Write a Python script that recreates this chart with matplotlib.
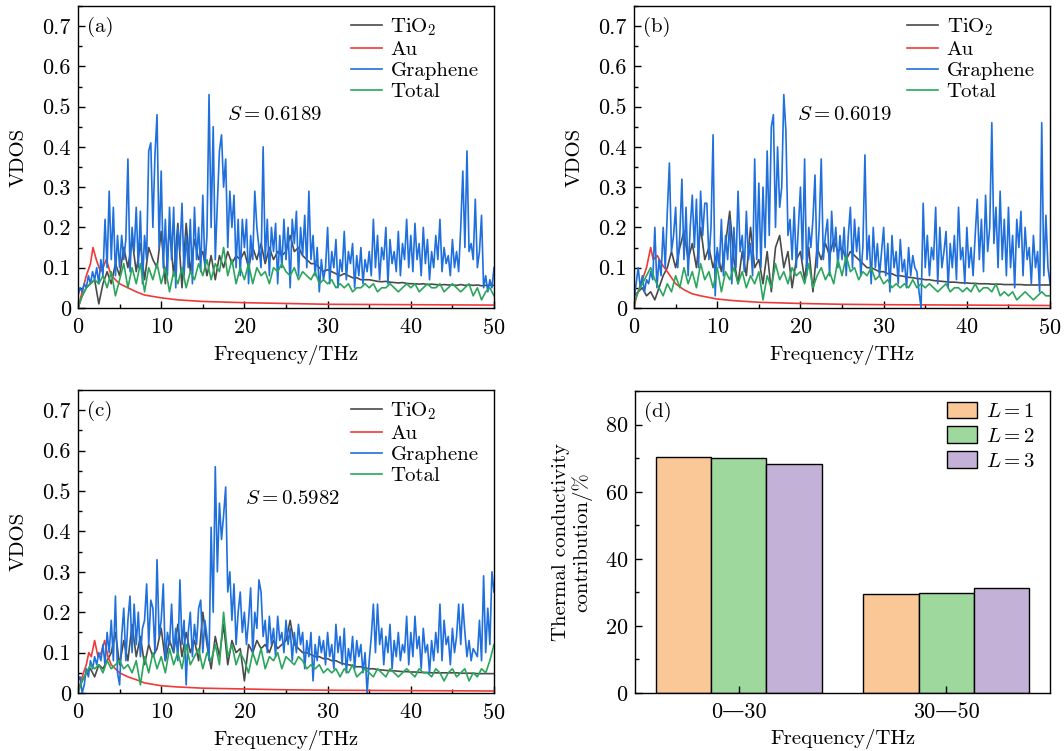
import matplotlib
matplotlib.use("Agg")
import matplotlib.pyplot as plt
from matplotlib.ticker import MultipleLocator, FormatStrFormatter
import numpy as np

plt.rcParams['font.family'] = ['cmr10', 'DejaVu Serif']
plt.rcParams['mathtext.fontset'] = 'cm'
plt.rcParams['axes.formatter.use_mathtext'] = True
plt.rcParams['font.size'] = 15
plt.rcParams['xtick.direction'] = 'in'
plt.rcParams['ytick.direction'] = 'in'
plt.rcParams['xtick.labelsize'] = 16
plt.rcParams['ytick.labelsize'] = 16

# ---------------- data ----------------
# (a)
gra_a = [0.03, 0.05, 0.04, 0.06, 0.05, 0.08, 0.06, 0.09, 0.07, 0.10, 0.06, 0.12, 0.08, 0.22, 0.10, 0.29, 0.12, 0.25, 0.08, 0.18,
         0.10, 0.18, 0.12, 0.17, 0.37, 0.09, 0.20, 0.14, 0.25, 0.10, 0.24, 0.06, 0.18, 0.12, 0.39, 0.41, 0.20, 0.38, 0.48, 0.15,
         0.34, 0.10, 0.22, 0.08, 0.25, 0.12, 0.25, 0.05, 0.20, 0.14, 0.26, 0.08, 0.18, 0.10, 0.22, 0.06, 0.25, 0.12, 0.20, 0.09,
         0.28, 0.10, 0.18, 0.53, 0.20, 0.45, 0.12, 0.26, 0.39, 0.43, 0.30, 0.37, 0.15, 0.29, 0.20, 0.28, 0.10, 0.22, 0.08, 0.22,
         0.15, 0.22, 0.06, 0.18, 0.12, 0.29, 0.20, 0.15, 0.10, 0.40, 0.12, 0.22, 0.08, 0.20, 0.14, 0.21, 0.06, 0.18, 0.10, 0.22,
         0.12, 0.20, 0.05, 0.22, 0.16, 0.24, 0.08, 0.20, 0.13, 0.23, 0.10, 0.29, 0.12, 0.18, 0.08, 0.15, 0.04, 0.12, 0.07, 0.10,
         0.20, 0.06, 0.14, 0.10, 0.17, 0.05, 0.12, 0.09, 0.19, 0.07, 0.14, 0.11, 0.16, 0.05, 0.13, 0.08, 0.15, 0.06, 0.12, 0.09,
         0.14, 0.08, 0.22, 0.10, 0.18, 0.07, 0.15, 0.12, 0.20, 0.06, 0.17, 0.11, 0.14, 0.09, 0.19, 0.08, 0.16, 0.12, 0.22, 0.10,
         0.18, 0.09, 0.21, 0.12, 0.16, 0.08, 0.20, 0.11, 0.17, 0.07, 0.14, 0.10, 0.18, 0.12, 0.22, 0.09, 0.15, 0.11, 0.13, 0.08,
         0.17, 0.10, 0.14, 0.09, 0.20, 0.34, 0.15, 0.39, 0.14, 0.16, 0.12, 0.27, 0.10, 0.14, 0.23, 0.05, 0.08, 0.04, 0.07, 0.05, 0.10]
tio2_a = [0.0, 0.03, 0.05, 0.06, 0.07, 0.01, 0.06, 0.09, 0.06, 0.11,
          0.08, 0.15, 0.10, 0.17, 0.09, 0.16, 0.07, 0.15, 0.12, 0.10,
          0.19, 0.06, 0.20, 0.08, 0.21, 0.05, 0.21, 0.09, 0.17, 0.12,
          0.14, 0.08, 0.13, 0.07, 0.13, 0.10, 0.14, 0.11, 0.13, 0.12,
          0.14, 0.10, 0.15, 0.12, 0.16, 0.11, 0.15, 0.12, 0.14, 0.13,
          0.14, 0.18, 0.14, 0.15, 0.13, 0.12, 0.11, 0.11, 0.10, 0.09,
          0.095, 0.09, 0.085, 0.08, 0.085, 0.08, 0.075, 0.075, 0.07, 0.07,
          0.07, 0.068, 0.066, 0.065, 0.066, 0.064, 0.063, 0.062, 0.063, 0.061,
          0.06, 0.06, 0.059, 0.06, 0.058, 0.059, 0.058, 0.057, 0.058, 0.057,
          0.057, 0.056, 0.058, 0.056, 0.057, 0.056, 0.057, 0.055, 0.056, 0.056, 0.056]
tot_a = [0.0, 0.03, 0.05, 0.06, 0.07, 0.06, 0.08, 0.05, 0.09, 0.03,
         0.07, 0.11, 0.05, 0.10, 0.06, 0.11, 0.04, 0.10, 0.07, 0.11,
         0.06, 0.10, 0.04, 0.09, 0.06, 0.10, 0.05, 0.09, 0.07, 0.11,
         0.08, 0.12, 0.07, 0.11, 0.09, 0.15, 0.08, 0.12, 0.06, 0.10,
         0.07, 0.11, 0.06, 0.10, 0.08, 0.09, 0.06, 0.10, 0.09, 0.11,
         0.09, 0.08, 0.10, 0.07, 0.09, 0.08, 0.07, 0.09, 0.06, 0.07,
         0.06, 0.07, 0.05, 0.06, 0.05, 0.06, 0.04, 0.05, 0.05, 0.06,
         0.05, 0.06, 0.04, 0.05, 0.05, 0.06, 0.05, 0.04, 0.05, 0.06,
         0.05, 0.06, 0.04, 0.05, 0.06, 0.05, 0.05, 0.06, 0.04, 0.05,
         0.06, 0.05, 0.04, 0.05, 0.06, 0.03, 0.05, 0.02, 0.04, 0.05, 0.03]
au_a_x = [0, 0.5, 1.0, 1.5, 1.8, 2.2, 2.7, 3.0, 3.4, 4.0, 5.0, 6.0, 7.0, 8.0, 10, 12, 15, 20, 25, 30, 40, 50]
au_a = [0.0, 0.04, 0.08, 0.11, 0.15, 0.12, 0.09, 0.10, 0.12, 0.08, 0.06, 0.05, 0.04, 0.032, 0.025, 0.02, 0.016, 0.013, 0.011, 0.009, 0.008, 0.007]

# (b)
gra_b = [0.02, 0.06, 0.10, 0.05, 0.08, 0.04, 0.07, 0.06, 0.09, 0.07, 0.20, 0.05, 0.12, 0.08, 0.20, 0.10, 0.24, 0.36, 0.14, 0.18,
         0.25, 0.10, 0.18, 0.32, 0.12, 0.25, 0.08, 0.20, 0.28, 0.15, 0.27, 0.10, 0.29, 0.18, 0.26, 0.26, 0.12, 0.20, 0.43, 0.03,
         0.15, 0.10, 0.22, 0.08, 0.18, 0.12, 0.22, 0.06, 0.20, 0.10, 0.29, 0.14, 0.18, 0.09, 0.24, 0.12, 0.16, 0.08, 0.37, 0.12,
         0.31, 0.10, 0.30, 0.15, 0.39, 0.18, 0.45, 0.48, 0.20, 0.40, 0.25, 0.30, 0.53, 0.44, 0.18, 0.22, 0.12, 0.25, 0.10, 0.20,
         0.30, 0.12, 0.37, 0.08, 0.20, 0.15, 0.22, 0.33, 0.10, 0.20, 0.37, 0.12, 0.18, 0.22, 0.08, 0.24, 0.14, 0.20, 0.10, 0.18,
         0.12, 0.20, 0.08, 0.18, 0.25, 0.10, 0.22, 0.14, 0.20, 0.08, 0.15, 0.38, 0.12, 0.18, 0.06, 0.20, 0.10, 0.16, 0.08, 0.14,
         0.20, 0.08, 0.16, 0.04, 0.18, 0.10, 0.14, 0.06, 0.17, 0.09, 0.12, 0.05, 0.15, 0.08, 0.13, 0.10, 0.09, 0.04, 0.0, 0.26,
         0.10, 0.18, 0.08, 0.15, 0.12, 0.25, 0.06, 0.20, 0.10, 0.14, 0.19, 0.05, 0.16, 0.10, 0.18, 0.07, 0.25, 0.12, 0.15, 0.06,
         0.20, 0.10, 0.15, 0.08, 0.18, 0.27, 0.12, 0.22, 0.09, 0.28, 0.14, 0.20, 0.46, 0.16, 0.25, 0.10, 0.29, 0.12, 0.22, 0.08,
         0.25, 0.10, 0.18, 0.05, 0.22, 0.15, 0.24, 0.08, 0.20, 0.12, 0.15, 0.06, 0.18, 0.10, 0.14, 0.04, 0.46, 0.08, 0.23, 0.10, 0.06]
tio2_b = [0.03, 0.04, 0.05, 0.03, 0.04, 0.02, 0.05, 0.08, 0.10, 0.14,
          0.10, 0.15, 0.19, 0.12, 0.16, 0.10, 0.20, 0.12, 0.15, 0.10,
          0.14, 0.09, 0.16, 0.24, 0.12, 0.06, 0.14, 0.08, 0.20, 0.10,
          0.12, 0.06, 0.14, 0.04, 0.15, 0.18, 0.10, 0.14, 0.05, 0.12,
          0.14, 0.07, 0.15, 0.04, 0.15, 0.12, 0.16, 0.13, 0.17, 0.14,
          0.15, 0.12, 0.14, 0.13, 0.12, 0.11, 0.10, 0.10, 0.095, 0.09,
          0.09, 0.085, 0.085, 0.08, 0.08, 0.078, 0.076, 0.075, 0.073, 0.072,
          0.07, 0.07, 0.068, 0.067, 0.066, 0.065, 0.064, 0.064, 0.063, 0.062,
          0.062, 0.061, 0.061, 0.06, 0.06, 0.06, 0.059, 0.059, 0.059, 0.058,
          0.058, 0.058, 0.058, 0.058, 0.057, 0.057, 0.057, 0.057, 0.057, 0.057, 0.057]
tot_b = [0.01, 0.04, 0.06, 0.08, 0.10, 0.07, 0.05, 0.03, 0.06, 0.04,
         0.08, 0.05, 0.10, 0.06, 0.09, 0.05, 0.11, 0.07, 0.09, 0.05,
         0.10, 0.04, 0.09, 0.07, 0.10, 0.06, 0.09, 0.05, 0.08, 0.06,
         0.09, 0.02, 0.08, 0.05, 0.11, 0.07, 0.09, 0.06, 0.10, 0.08,
         0.09, 0.06, 0.11, 0.05, 0.08, 0.10, 0.07, 0.09, 0.06, 0.12,
         0.08, 0.13, 0.09, 0.10, 0.07, 0.09, 0.08, 0.10, 0.07, 0.08,
         0.06, 0.07, 0.05, 0.06, 0.05, 0.06, 0.05, 0.07, 0.05, 0.06,
         0.05, 0.06, 0.05, 0.04, 0.05, 0.06, 0.04, 0.05, 0.05, 0.04,
         0.05, 0.04, 0.06, 0.04, 0.05, 0.05, 0.04, 0.06, 0.03, 0.04,
         0.03, 0.04, 0.02, 0.03, 0.04, 0.03, 0.02, 0.03, 0.04, 0.03, 0.03]
au_b_x = [0, 0.3, 1.0, 1.5, 2.0, 2.3, 2.8, 3.3, 4.0, 5.0, 6.0, 7.0, 8.0, 10, 12, 15, 20, 25, 30, 40, 50]
au_b = [0.0, 0.03, 0.07, 0.10, 0.15, 0.12, 0.13, 0.11, 0.09, 0.06, 0.045, 0.035, 0.03, 0.022, 0.018, 0.014, 0.011, 0.009, 0.008, 0.007, 0.006]

# (c)
gra_c = [0.03, 0.04, 0.0, 0.02, 0.06, 0.04, 0.08, 0.06, 0.09, 0.07, 0.10, 0.08, 0.12, 0.07, 0.15, 0.10, 0.18, 0.08, 0.24, 0.05,
         0.02, 0.14, 0.21, 0.08, 0.18, 0.24, 0.10, 0.22, 0.12, 0.20, 0.09, 0.16, 0.18, 0.27, 0.12, 0.23, 0.21, 0.10, 0.33, 0.14,
         0.18, 0.27, 0.08, 0.15, 0.12, 0.22, 0.10, 0.16, 0.08, 0.28, 0.12, 0.18, 0.02, 0.15, 0.20, 0.09, 0.17, 0.12, 0.21, 0.23,
         0.10, 0.18, 0.14, 0.08, 0.41, 0.20, 0.56, 0.30, 0.47, 0.38, 0.44, 0.51, 0.25, 0.30, 0.18, 0.27, 0.12, 0.20, 0.25, 0.15,
         0.20, 0.12, 0.18, 0.26, 0.10, 0.20, 0.16, 0.28, 0.25, 0.14, 0.18, 0.10, 0.19, 0.12, 0.16, 0.09, 0.19, 0.13, 0.15, 0.10,
         0.18, 0.12, 0.16, 0.08, 0.15, 0.10, 0.17, 0.12, 0.15, 0.06, 0.13, 0.09, 0.15, 0.03, 0.12, 0.08, 0.14, 0.10, 0.13, 0.07,
         0.15, 0.09, 0.12, 0.06, 0.17, 0.10, 0.14, 0.07, 0.16, 0.05, 0.11, 0.08, 0.14, 0.06, 0.13, 0.09, 0.12, 0.05, 0.10, 0.0,
         0.08, 0.14, 0.22, 0.10, 0.22, 0.12, 0.16, 0.07, 0.14, 0.10, 0.17, 0.06, 0.13, 0.09, 0.15, 0.08, 0.12, 0.10, 0.19, 0.07,
         0.15, 0.09, 0.19, 0.11, 0.14, 0.06, 0.16, 0.10, 0.12, 0.05, 0.13, 0.08, 0.15, 0.10, 0.22, 0.08, 0.18, 0.12, 0.14, 0.07,
         0.16, 0.10, 0.14, 0.22, 0.12, 0.22, 0.15, 0.09, 0.13, 0.08, 0.11, 0.10, 0.09, 0.18, 0.08, 0.29, 0.10, 0.21, 0.12, 0.30, 0.25]
tio2_c = [0.01, 0.03, 0.05, 0.06, 0.04, 0.07, 0.06, 0.08, 0.10, 0.15,
          0.07, 0.13, 0.08, 0.17, 0.09, 0.14, 0.07, 0.12, 0.09, 0.11,
          0.16, 0.08, 0.13, 0.10, 0.17, 0.09, 0.15, 0.10, 0.13, 0.08,
          0.20, 0.12, 0.06, 0.14, 0.09, 0.17, 0.07, 0.13, 0.10, 0.11,
          0.03, 0.12, 0.10, 0.13, 0.11, 0.12, 0.10, 0.13, 0.11, 0.12,
          0.13, 0.18, 0.12, 0.11, 0.10, 0.10, 0.095, 0.09, 0.09, 0.085,
          0.085, 0.08, 0.08, 0.075, 0.072, 0.07, 0.068, 0.065, 0.065, 0.062,
          0.06, 0.06, 0.058, 0.057, 0.056, 0.055, 0.055, 0.054, 0.053, 0.053,
          0.052, 0.052, 0.051, 0.051, 0.051, 0.05, 0.05, 0.05, 0.05, 0.05,
          0.05, 0.05, 0.049, 0.049, 0.049, 0.049, 0.048, 0.048, 0.048, 0.048, 0.048]
tot_c = [0.0, 0.03, 0.05, 0.07, 0.06, 0.07, 0.05, 0.08, 0.06, 0.07,
         0.08, 0.06, 0.07, 0.05, 0.08, 0.02, 0.09, 0.05, 0.10, 0.06,
         0.09, 0.05, 0.11, 0.07, 0.10, 0.06, 0.12, 0.07, 0.09, 0.11,
         0.06, 0.10, 0.08, 0.12, 0.07, 0.20, 0.09, 0.12, 0.07, 0.10,
         0.08, 0.05, 0.10, 0.07, 0.11, 0.06, 0.09, 0.08, 0.10, 0.06,
         0.09, 0.08, 0.07, 0.09, 0.08, 0.06, 0.07, 0.06, 0.07, 0.05,
         0.06, 0.05, 0.06, 0.04, 0.06, 0.05, 0.07, 0.04, 0.05, 0.06,
         0.05, 0.04, 0.06, 0.05, 0.04, 0.06, 0.05, 0.04, 0.05, 0.06,
         0.05, 0.04, 0.06, 0.05, 0.05, 0.04, 0.06, 0.05, 0.03, 0.05,
         0.06, 0.04, 0.05, 0.06, 0.03, 0.05, 0.04, 0.06, 0.05, 0.08, 0.12]
au_c_x = [0, 0.5, 1.0, 1.3, 1.6, 2.0, 2.4, 2.8, 3.2, 3.6, 4.0, 5.0, 6.0, 7.0, 8.0, 10, 12, 15, 20, 25, 30, 40, 50]
au_c = [0.0, 0.04, 0.07, 0.10, 0.09, 0.13, 0.09, 0.10, 0.13, 0.09, 0.07, 0.05, 0.04, 0.033, 0.025, 0.018, 0.015, 0.012, 0.01, 0.008, 0.007, 0.006, 0.005]

S_values = ['0.6189', '0.6019', '0.5982']
S_pos = [(17.9, 0.48), (19.6, 0.48), (20.1, 0.48)]

# (d)
groups = ['0—30', '30—50']
L1 = [70.4, 29.5]
L2 = [70.1, 29.8]
L3 = [68.4, 31.4]

c_tio2 = '#4a4a4a'
c_au = '#f03a3a'
c_gra = '#1f6fdc'
c_tot = '#2aa65c'

fig = plt.figure(figsize=(10.64, 7.51), dpi=100)
ax_a = fig.add_axes([0.0733, 0.590, 0.391, 0.402])
ax_b = fig.add_axes([0.5959, 0.590, 0.391, 0.402])
ax_c = fig.add_axes([0.0733, 0.0772, 0.391, 0.4035])
ax_d = fig.add_axes([0.5968, 0.0772, 0.390, 0.402])

x_fine = np.linspace(0, 50, 201)
x_coarse = np.linspace(0, 50, 101)

panels = [
    (ax_a, '(a)', tio2_a, au_a_x, au_a, gra_a, tot_a),
    (ax_b, '(b)', tio2_b, au_b_x, au_b, gra_b, tot_b),
    (ax_c, '(c)', tio2_c, au_c_x, au_c, gra_c, tot_c),
]
for i, (ax, tag, tio2, aux, au, gra, tot) in enumerate(panels):
    ax.plot(x_coarse, tio2, color=c_tio2, lw=1.2, label='TiO$_2$')
    ax.plot(aux, au, color=c_au, lw=1.2, label='Au')
    ax.plot(x_fine, gra, color=c_gra, lw=1.2, label='Graphene')
    ax.plot(x_coarse, tot, color=c_tot, lw=1.2, label='Total')
    ax.set_xlim(0, 50)
    ax.set_ylim(0, 0.75)
    ax.xaxis.set_major_locator(MultipleLocator(10))
    ax.xaxis.set_minor_locator(MultipleLocator(5))
    ax.yaxis.set_major_locator(MultipleLocator(0.1))
    ax.yaxis.set_minor_locator(MultipleLocator(0.05))
    ax.yaxis.set_major_formatter(FormatStrFormatter('%g'))
    ax.set_xlabel('Frequency/THz', labelpad=5)
    ax.set_ylabel('VDOS', labelpad=11)
    ax.text(0.022, 0.965, tag, transform=ax.transAxes, ha='left', va='top')
    ax.text(S_pos[i][0], S_pos[i][1], r'$S = ' + S_values[i] + '$', ha='left', va='center')
    ax.legend(loc='upper right', bbox_to_anchor=(0.988, 1.0), frameon=False, handlelength=1.5,
              handletextpad=0.4, labelspacing=0.12, borderaxespad=0.3, borderpad=0.2)

# (d) bars
pos = np.array([1, 2])
w = 0.8 / 3
ax_d.bar(pos - w, L1, w, color='#f9c896', edgecolor='black', lw=1.0, label='$L = 1$')
ax_d.bar(pos, L2, w, color='#9ed89c', edgecolor='black', lw=1.0, label='$L = 2$')
ax_d.bar(pos + w, L3, w, color='#c3b1d7', edgecolor='black', lw=1.0, label='$L = 3$')
ax_d.set_xlim(0.5, 2.5)
ax_d.set_ylim(0, 90)
ax_d.set_xticks(pos)
ax_d.set_xticklabels(groups)
ax_d.yaxis.set_major_locator(MultipleLocator(20))
ax_d.yaxis.set_minor_locator(MultipleLocator(10))
ax_d.set_xlabel('Frequency/THz', labelpad=5)
ax_d.set_ylabel('Thermal conductivity\ncontribution/%', linespacing=1.1, labelpad=9)
ax_d.text(0.022, 0.965, '(d)', transform=ax_d.transAxes, ha='left', va='top')
ax_d.legend(loc='upper right', bbox_to_anchor=(0.99, 1.0), frameon=False, handlelength=1.45,
            handleheight=0.85, handletextpad=0.45, labelspacing=0.25, borderaxespad=0.3, borderpad=0.2)

for ax in [ax_a, ax_b, ax_c, ax_d]:
    ax.tick_params(which='major', length=5, width=1)
    ax.tick_params(which='minor', length=3, width=1)
    ax.tick_params(axis='x', pad=7)
    ax.tick_params(axis='y', pad=5)
    for s in ax.spines.values():
        s.set_linewidth(1.0)

fig.savefig('out.png', dpi=100)
